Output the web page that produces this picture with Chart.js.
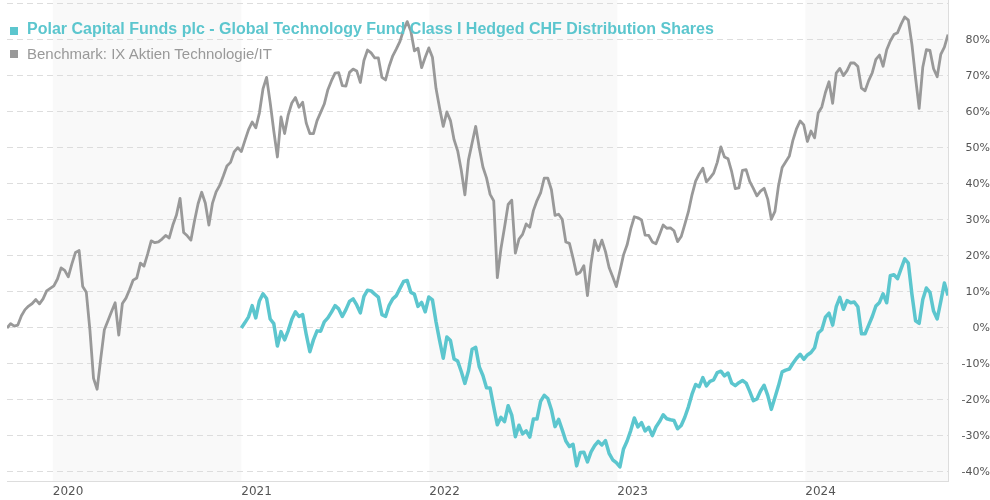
<!DOCTYPE html>
<html>
<head>
<meta charset="utf-8">
<script src="https://cdn.jsdelivr.net/npm/chart.js@4.4.1/dist/chart.umd.min.js"></script>
<style>
  body { margin: 0; background: #fff; }
  #wrap { position: relative; width: 990px; height: 500px; }
  .leg { position: absolute; left: 27px; font-family: "Liberation Sans", Arial, sans-serif; white-space: nowrap; }
  .sq { position: absolute; left: 10px; width: 8px; height: 8px; }
</style>
</head>
<body>
<div id="wrap">
  <canvas id="perfChart" width="990" height="500"></canvas>
  <div class="sq" style="top:27px;background:#5cc6ce"></div>
  <div class="leg" style="top:21px;font-size:16px;line-height:16px;font-weight:bold;color:#5cc6ce">Polar Capital Funds plc - Global Technology Fund Class I Hedged CHF Distribution Shares</div>
  <div class="sq" style="top:50px;background:#999"></div>
  <div class="leg" style="top:46px;font-size:15px;line-height:15px;color:#999">Benchmark: IX Aktien Technologie/IT</div>
</div>
<script>
// periodo del gráfico (serie semanal)
const START = "2019-10-04";
const FUND_START = "2021-01-01";
const END = "2024-10-04";

const yearLabels = [2020, 2021, 2022, 2023, 2024];
const shadedYears = [2020, 2022, 2024];
const yTicks = [-40, -30, -20, -10, 0, 10, 20, 30, 40, 50, 60, 70, 80, 90];

// Benchmark: IX Aktien Technologie/IT, rendimiento en %, semanal desde START
const benchmark = [
  0, 1.2, 0.5, 0.8, 3.4, 5.1, 6.1, 6.8, 7.9, 6.7,
  8.1, 10.3, 11, 11.7, 13.6, 16.7, 16, 14.2, 17.8, 21,
  21.5, 11.5, 9.9, -0.6, -14, -17, -8.5, -0.5, 2, 4.6,
  7, -2, 6.8, 8.3, 10.7, 13.3, 13.9, 18, 17.2, 20.5,
  24.2, 23.7, 23.9, 24.7, 25.7, 25, 28.6, 31.4, 36, 26.5,
  25.6, 24.4, 29.7, 34.5, 37.7, 34.7, 28.6, 34.7, 37.8, 39.6,
  42.2, 45, 46, 48.9, 50.1, 49, 52.1, 55.1, 57.2, 55.6,
  59.7, 66.4, 69.6, 62.6, 54.7, 47.5, 58.6, 54, 59.2, 62.5,
  64, 61.3, 62.7, 56.9, 54, 54, 57.6, 59.9, 62.2, 66.2,
  68.7, 70.8, 70.9, 67.3, 67.2, 71, 71.9, 71.4, 68.2, 74.3,
  77.2, 76.4, 75, 75, 69.6, 68.9, 72.7, 75.6, 77.5, 79.6,
  82.8, 85.1, 82.5, 77, 77.7, 72.3, 75.2, 77.8, 75.2, 66.5,
  61, 56, 60, 57.6, 52.3, 49.2, 43.8, 37, 46.7, 51.4,
  56, 50, 44.7, 41.7, 37.1, 35.3, 14, 22, 28, 34.3,
  35.5, 20.8, 24.7, 26, 28.9, 28, 32.6, 35.4, 37.5, 41.6,
  41.6, 38.4, 31.3, 31.6, 30.2, 23.9, 23.5, 19.4, 14.9, 15.5,
  17.3, 9, 18, 24.4, 21.5, 24.4, 21.2, 16.8, 14.2, 11.5,
  15.8, 20.3, 23.1, 27.5, 30.9, 30.6, 30, 25.8, 25.7, 23.9,
  23.4, 26, 28.6, 27.7, 27.8, 27, 24, 25.4, 28.8, 32.3,
  37, 40.8, 42.8, 44.4, 40.6, 41.7, 43, 46, 50.3, 47.5,
  47, 43.4, 38.7, 38.9, 43.8, 44, 40.7, 38.8, 36.7, 38,
  38.8, 35.8, 30.2, 32.4, 39.6, 44.6, 46.2, 47.8, 52.2, 55.4,
  57.5, 56.4, 51.8, 54.7, 52.8, 59.7, 61.4, 65.4, 68.4, 62.4,
  70.8, 72.1, 70.1, 71.5, 73.6, 73.6, 72.6, 66.6, 65.9, 68.7,
  70.9, 74.6, 75.8, 72.7, 77.3, 79.7, 81.5, 82, 84.4, 86.4,
  85.5, 78.7, 69.5, 61, 72.4, 77.3, 77.1, 72, 69.8, 76,
  78, 81.5
];

// Fondo (Class I Hedged CHF), rendimiento en %, semanal desde FUND_START
const fund = [
  0, 1.5, 3.1, 6.2, 2.8, 7.5, 9.5, 8.2, 2.5, 1.2,
  -5, -1, -3.3, -0.7, 2.4, 4.5, 3.2, 3.7, -1.8, -6.6,
  -3.3, -0.8, -0.9, 1.7, 2.8, 4.4, 6.2, 5.3, 3.2, 5.1,
  7.4, 8.1, 6.4, 4.2, 8.8, 10.5, 10.3, 9.4, 8.6, 3.7,
  3.2, 6.3, 8.1, 9, 11, 12.9, 13.2, 9.9, 9.4, 6,
  7.1, 4.5, 8.6, 7.8, 1.7, -3.5, -8.4, -2.5, -3.5, -8.6,
  -9.2, -12.1, -15.4, -11.9, -5.9, -5.4, -10.8, -13.2, -16.6, -16.7,
  -21.9, -26.9, -24.8, -26, -21.6, -24.2, -30.2, -27, -29.4, -28.6,
  -30.3, -25.3, -25.3, -20.4, -18.7, -19.6, -22.7, -27.4, -25.4, -28.3,
  -31.4, -32.9, -32.3, -38.3, -34.6, -34.5, -37.2, -34.4, -32.7, -31.5,
  -32.5, -31.3, -34.8, -36.6, -37.4, -38.6, -33.6, -31.4, -28.5, -25,
  -27.5, -26.3, -28.6, -27.6, -29.9, -27.5, -26, -24.1, -25.2, -25.5,
  -25.7, -28, -27.1, -24.8, -21.9, -18.4, -15.7, -16.3, -13.8, -16.1,
  -14.8, -14.4, -12.4, -12, -13.3, -12.5, -15.3, -16, -15.2, -14.6,
  -15.3, -17.6, -20.2, -19.7, -17.5, -15.9, -18.7, -22.6, -19.3, -16,
  -12.2, -11.7, -11.4, -9.8, -8.4, -7.3, -8.7, -7.5, -6.8, -5.5,
  -1.4, -0.5, 3, 4.1, 0.8, 5.9, 8.5, 5.2, 7.6, 7,
  7.2, 5.9, -1.6, -1.6, 0.8, 3.2, 6.1, 7.1, 9.5, 7,
  14.5, 14.8, 13.7, 16.5, 19.2, 18, 9.3, 2, 1.3, 7.9,
  11.1, 9.9, 4.7, 2.5, 7.4, 12.5, 9
];

const DAY = 86400000;
const t0 = Date.parse(START);
function dayOf(s) { return (Date.parse(s) - t0) / DAY; }
function weekly(values, from) {
  const d0 = dayOf(from);
  return values.map((v, i) => ({ x: d0 + 7 * i, y: v }));
}

// franjas grises de años alternos
const yearBands = {
  id: "yearBands",
  beforeDraw(chart) {
    const { ctx, chartArea: a, scales } = chart;
    ctx.save();
    ctx.fillStyle = "#f9f9f9";
    shadedYears.forEach((yr) => {
      const l = Math.max(a.left, scales.x.getPixelForValue(dayOf(yr + "-01-01")));
      const r = Math.min(a.right, scales.x.getPixelForValue(dayOf(yr + 1 + "-01-01")));
      ctx.fillRect(l, a.top, r - l, a.bottom - a.top);
    });
    ctx.restore();
  },
};

const ctx = document.getElementById("perfChart").getContext("2d");
new Chart(ctx, {
  type: "line",
  data: {
    datasets: [
      {
        label: "Polar Capital Funds plc - Global Technology Fund Class I Hedged CHF Distribution Shares",
        data: weekly(fund, FUND_START),
        borderColor: "#5cc6ce",
        borderWidth: 3.5,
        pointRadius: 0,
        tension: 0,
        borderJoinStyle: "round",
      },
      {
        label: "Benchmark: IX Aktien Technologie/IT",
        data: weekly(benchmark, START),
        borderColor: "#999999",
        borderWidth: 2.8,
        pointRadius: 0,
        tension: 0,
        borderJoinStyle: "round",
      },
    ],
  },
  options: {
    responsive: false,
    animation: false,
    layout: { padding: { left: 7, top: 0, right: 0, bottom: 0 } },
    plugins: { legend: { display: false }, tooltip: { enabled: false } },
    scales: {
      x: {
        type: "linear",
        min: 0,
        max: dayOf(END),
        afterBuildTicks: (s) => { s.ticks = yearLabels.map((y) => ({ value: dayOf(y + "-01-01") })); },
        afterFit: (s) => { s.height = 19; s.paddingLeft = 0; s.paddingRight = 0; },
        ticks: {
          align: "start",
          padding: -4,
          maxRotation: 0,
          autoSkip: false,
          color: "#555",
          font: { family: "DejaVu Sans", size: 12 },
          callback: (v) => new Date(t0 + v * DAY).getUTCFullYear(),
        },
        grid: { display: false },
        border: { color: "#dddddd", width: 1 },
      },
      y: {
        position: "right",
        min: -42.5,
        max: 91.1,
        afterBuildTicks: (s) => { s.ticks = yTicks.map((v) => ({ value: v })); },
        afterFit: (s) => { s.width = 42; s.paddingTop = 0; s.paddingBottom = 0; },
        ticks: {
          crossAlign: "far",
          padding: 16,
          color: "#555",
          font: { family: "DejaVu Sans", size: 11 },
          callback: (v) => (v === 90 ? "" : v + "%"),
        },
        grid: { color: "#dddddd", lineWidth: 1, drawTicks: false },
        border: { color: "#dddddd", dash: [6, 4] },
      },
    },
  },
  plugins: [yearBands],
});
</script>
</body>
</html>
